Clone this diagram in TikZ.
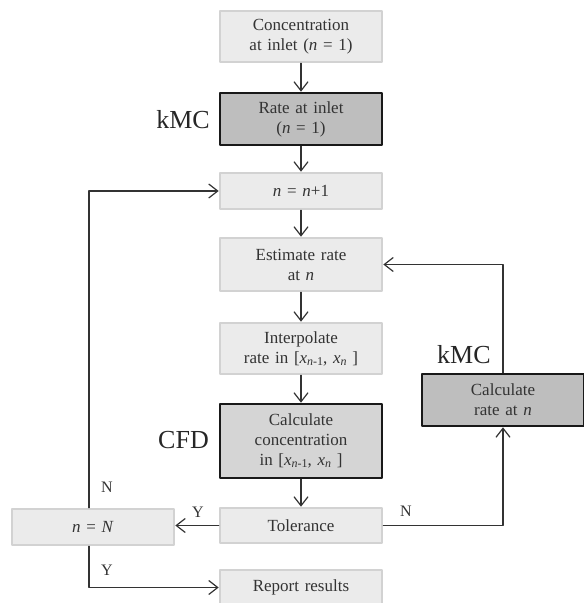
\documentclass[tikz,border=0pt]{standalone}
\usepackage{fontspec}
\setmainfont{Liberation Serif}
\usetikzlibrary{arrows.meta,positioning}
\definecolor{boxlight}{HTML}{EBEBEB}
\definecolor{edgelight}{HTML}{D2D2D2}
\definecolor{boxdark}{HTML}{BEBEBE}
\definecolor{boxmid}{HTML}{D5D5D5}
\definecolor{inkgray}{HTML}{333333}
\newcommand{\lowidx}[1]{\raisebox{-0.3ex}{\fontsize{12}{12}\selectfont #1}}
\tikzset{
  lightbox/.style={draw=edgelight, line width=2.6pt, fill=boxlight,
    minimum width=162pt, text width=150pt, align=center, inner sep=0pt,
    font=\fontsize{17}{20}\selectfont, text=inkgray},
  darkbox/.style={lightbox, draw=black!90, fill=boxdark},
  flow/.style={-{Straight Barb[length=9pt,width=14pt]}, line width=1.2pt, draw=inkgray},
  tag/.style={font=\fontsize{26}{26}\selectfont, text=black!85},
  yesno/.style={font=\fontsize{16}{16}\selectfont, text=inkgray}
}
\begin{document}
\begin{tikzpicture}[x=1pt,y=-1pt,line cap=round,line join=round]
  \useasboundingbox (0,0) rectangle (584,603);
  % main column
  \node[lightbox, minimum height=51pt] (conc) at (301,36.5) {Concentration\\at inlet (\textit{n} = 1)};
  \node[darkbox, minimum height=52pt] (rate0) at (301,119) {Rate at inlet\\(\textit{n} = 1)};
  \node[lightbox, minimum height=36pt] (incr) at (301,191) {\textit{n} = \textit{n}+1};
  \node[lightbox, minimum height=53pt] (est) at (301,264.5) {Estimate rate\\at \textit{n}};
  \node[lightbox, minimum height=51pt] (interp) at (301,348.5)
    {Interpolate\\rate in [\textit{x}\lowidx{\textit{n}-1}, \textit{x}\lowidx{\textit{n}} ]};
  \node[darkbox, fill=boxmid, minimum height=74pt] (cfd) at (301,441)
    {Calculate\\concentration\\in [\textit{x}\lowidx{\textit{n}-1}, \textit{x}\lowidx{\textit{n}} ]};
  \node[lightbox, minimum height=35pt] (tol) at (301,525.5) {Tolerance};
  \node[lightbox, minimum height=35pt] (report) at (301,587.5) {Report results};
  % side boxes
  \node[lightbox, minimum height=36pt] (check) at (93,527) {\textit{n} = \textit{N}};
  \node[darkbox, minimum height=52pt] (calc) at (503,400) {Calculate\\rate at \textit{n}};
  % solver tags
  \node[tag, anchor=base east, inner sep=0pt] (kmcin) at (210,128) {kMC};
  \node[tag, anchor=base east, inner sep=0pt] (cfdtag) at (209,448) {CFD};
  \node[tag, anchor=base west, inner sep=0pt] (kmcn) at (437,363) {kMC};
  % decisions
  \node[yesno] (nloop) at (107,487) {N};
  \node[yesno] (ytol) at (198,512) {Y};
  \node[yesno] (ntol) at (406,511) {N};
  \node[yesno] (yend) at (107,570) {Y};

  \draw[flow] (conc) -- (rate0);
  \draw[flow] (rate0) -- (incr);
  \draw[flow] (incr) -- (est);
  \draw[flow] (est) -- (interp);
  \draw[flow] (interp) -- (cfd);
  \draw[flow] (cfd) -- (tol);
  \draw[flow] (tol.west) -- (tol.west -| check.east);
  \draw[flow] (tol.east) -| (calc.south);
  \draw[flow] (calc.north) |- (est.east);
  \draw[flow] ([xshift=-4pt]check.north) |- (incr.west);
  \draw[flow] ([xshift=-4pt]check.south) |- (report.west);
\end{tikzpicture}
\end{document}
